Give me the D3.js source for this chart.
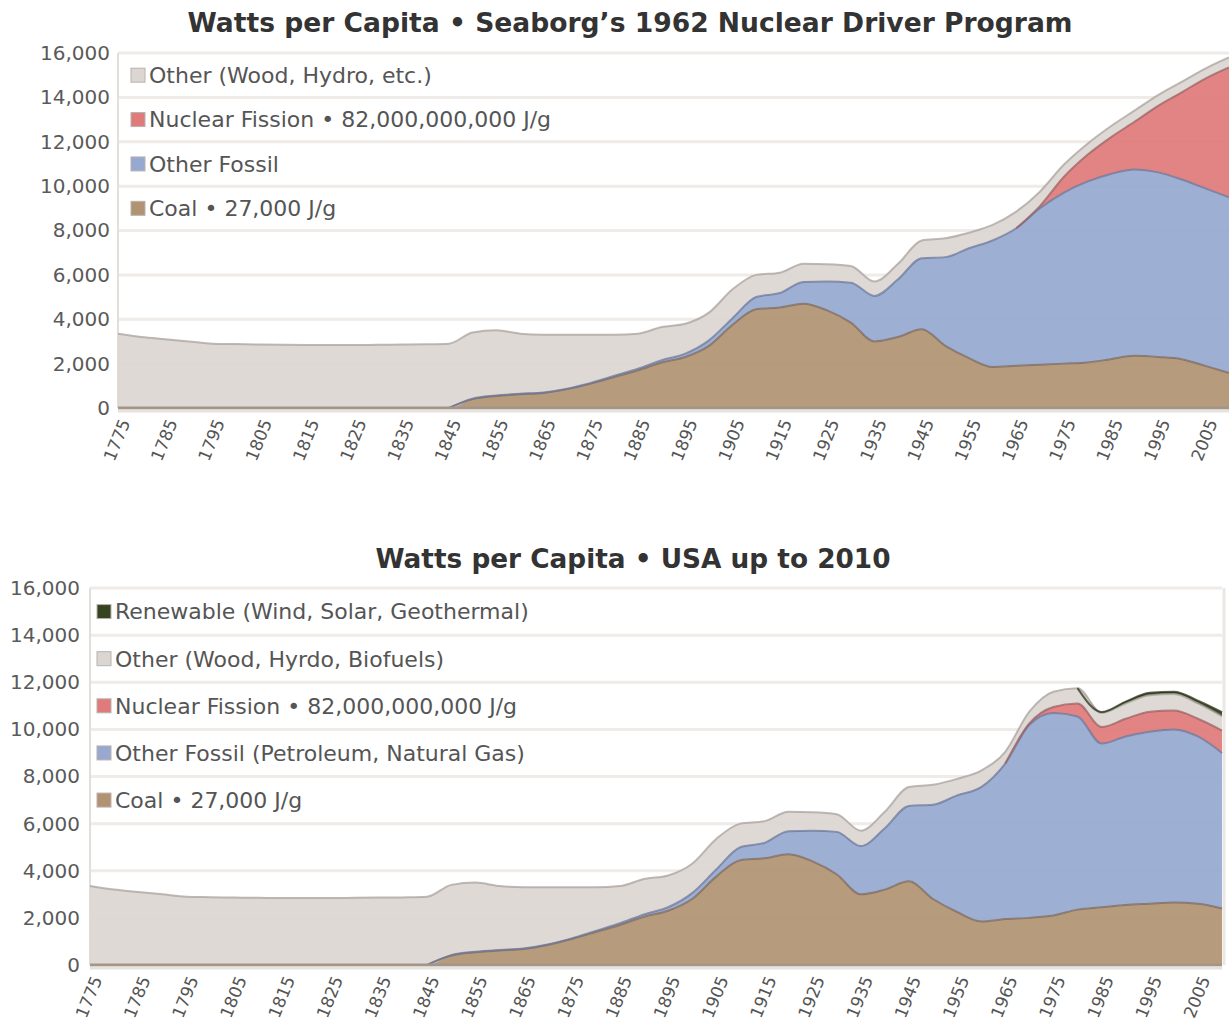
<!DOCTYPE html>
<html>
<head>
<meta charset="utf-8">
<script src="https://cdn.jsdelivr.net/npm/d3@7"></script>
<style>
  body { margin: 0; background: #fff; }
  text { font-family: "DejaVu Sans", Verdana, sans-serif; }
</style>
</head>
<body>
<svg id="chart" width="1229" height="1035"></svg>
<script>
// Categories (5-year steps) and labelled ticks
const years = [1775,1780,1785,1790,1795,1800,1805,1810,1815,1820,1825,1830,1835,1840,1845,
  1850,1855,1860,1865,1870,1875,1880,1885,1890,1895,1900,1905,1910,1915,1920,1925,1930,
  1935,1940,1945,1950,1955,1960,1965,1970,1975,1980,1985,1990,1995,2000,2005,2010];
const tickYears = [1775,1785,1795,1805,1815,1825,1835,1845,1855,1865,1875,1885,1895,
  1905,1915,1925,1935,1945,1955,1965,1975,1985,1995,2005];
const yTicks = [0,2000,4000,6000,8000,10000,12000,14000,16000];

// Top chart: Seaborg's 1962 projection (watts per capita)
const coalA = [0,0,0,0,0,0,0,0,0,0,0,0,0,0,0,
  400,540,620,680,850,1100,1400,1700,2050,2300,2800,3750,4450,4530,4700,4400,3850,
  3000,3200,3550,2800,2250,1850,1900,1950,2000,2050,2200,2350,2300,2200,1900,1580];
const fossilA = [0,0,0,0,0,0,0,0,0,0,0,0,0,0,0,
  20,20,20,20,20,30,50,70,100,150,250,300,550,650,980,1300,1800,
  2050,2600,3200,4000,4950,5700,6200,7050,7700,8150,8350,8400,8320,8100,8000,7920];
const nuclearA = [0,0,0,0,0,0,0,0,0,0,0,0,0,0,0,
  0,0,0,0,0,0,0,0,0,0,0,0,0,0,0,0,0,
  0,0,0,0,0,0,0,100,700,1200,1650,2150,3000,3930,4950,5850];
const otherA = [3350,3200,3100,3000,2900,2880,2860,2850,2840,2840,2840,2850,2860,2870,2900,
  2980,2940,2710,2600,2430,2170,1850,1580,1500,1350,1250,1300,1000,920,820,780,750,
  650,700,800,850,700,700,750,650,550,500,500,500,480,470,450,450];

// Bottom chart: USA actual up to 2010
const coalB = [0,0,0,0,0,0,0,0,0,0,0,0,0,0,0,
  400,540,620,680,850,1100,1400,1700,2050,2300,2800,3750,4450,4530,4700,4400,3850,
  3000,3200,3550,2800,2250,1850,1950,2000,2100,2350,2450,2550,2600,2650,2600,2400];
const fossilB = [0,0,0,0,0,0,0,0,0,0,0,0,0,0,0,
  20,20,20,20,20,30,50,70,100,150,250,300,550,650,980,1300,1800,
  2050,2600,3200,4000,4950,5700,6600,8200,8600,8200,6950,7150,7300,7350,7100,6600];
const nuclearB = [0,0,0,0,0,0,0,0,0,0,0,0,0,0,0,
  0,0,0,0,0,0,0,0,0,0,0,0,0,0,0,0,0,
  0,0,0,0,0,0,0,50,250,550,700,750,850,800,750,950];
const otherB = [3350,3200,3100,3000,2900,2880,2860,2850,2840,2840,2840,2850,2860,2870,2900,
  2980,2940,2710,2600,2430,2170,1850,1580,1500,1350,1250,1300,1000,920,820,780,750,
  650,700,800,850,700,700,500,500,650,650,600,650,700,700,650,600];
const renewB = [0,0,0,0,0,0,0,0,0,0,0,0,0,0,0,
  0,0,0,0,0,0,0,0,0,0,0,0,0,0,0,0,0,
  0,0,0,0,0,0,0,0,0,0,40,80,100,100,120,180];

const colors = {
  coal:    { fill: "#b19373", line: "#7e6a5c" },
  fossil:  { fill: "#97a9d1", line: "#6c7799" },
  nuclear: { fill: "#e07b7b", line: "#9c5f62" },
  other:   { fill: "#dcd6d2", line: "#a9a29e" },
  renew:   { fill: "#36431f", line: "#2a3318" }
};

const svg = d3.select("#chart");

function drawChart(cfg) {
  const x = d3.scaleLinear().domain([1775, 2010]).range([cfg.left, cfg.right]);
  const y = d3.scaleLinear().domain([0, 16000]).range([cfg.bottom, cfg.top]);
  const g = svg.append("g");

  // title
  g.append("text")
    .attr("x", cfg.titleX).attr("y", cfg.titleY)
    .attr("text-anchor", "middle")
    .attr("font-size", 27).attr("font-weight", "bold")
    .attr("textLength", cfg.titleW).attr("lengthAdjust", "spacingAndGlyphs")
    .attr("fill", "#333")
    .text(cfg.title);

  // gridlines
  g.selectAll(".grid").data(yTicks.filter(d => d > 0)).join("line")
    .attr("x1", cfg.left).attr("x2", cfg.right)
    .attr("y1", d => y(d)).attr("y2", d => y(d))
    .attr("stroke", "#eeebe8").attr("stroke-width", 3);
  g.append("line")
    .attr("x1", cfg.left).attr("x2", cfg.left)
    .attr("y1", cfg.top).attr("y2", cfg.bottom)
    .attr("stroke", "#e2deda").attr("stroke-width", 2);
  if (cfg.rightBorder) {
    g.append("line")
      .attr("x1", cfg.right + 2).attr("x2", cfg.right + 2)
      .attr("y1", cfg.top).attr("y2", cfg.bottom)
      .attr("stroke", "#ebe7e4").attr("stroke-width", 3);
  }

  // stacked areas
  const keys = cfg.series.map(s => s.key);
  const rows = years.map((yr, i) => {
    const r = { year: yr };
    cfg.series.forEach(s => { r[s.key] = s.values[i]; });
    return r;
  });
  const stack = d3.stack().keys(keys)(rows);
  const area = d3.area().curve(d3.curveMonotoneX)
    .x(d => x(d.data.year)).y0(d => y(d[0])).y1(d => y(d[1]));

  g.selectAll(".area").data(stack).join("path")
    .attr("d", area)
    .attr("fill", d => colors[d.key].fill)
    .attr("fill-opacity", 0.93);

  // outline on top of each layer, only where the layer has thickness
  stack.forEach(layer => {
    const k = layer.key;
    const has = i => i >= 0 && i < rows.length && rows[i][k] > 0;
    const edge = d3.line().curve(d3.curveMonotoneX)
      .defined((d, i) => has(i) || has(i - 1) || has(i + 1))
      .x(d => x(d.data.year)).y(d => y(d[1]));
    g.append("path")
      .datum(layer)
      .attr("d", edge)
      .attr("fill", "none")
      .attr("stroke", colors[k].line)
      .attr("stroke-width", 2)
      .attr("stroke-opacity", 0.75);
  });

  // baseline
  g.append("line")
    .attr("x1", cfg.left).attr("x2", cfg.right)
    .attr("y1", y(0)).attr("y2", y(0))
    .attr("stroke", "#a39588").attr("stroke-width", 3);
  g.append("line")
    .attr("x1", cfg.left).attr("x2", cfg.right)
    .attr("y1", y(0) + 3).attr("y2", y(0) + 3)
    .attr("stroke", "#e6e2de").attr("stroke-width", 3);

  // y axis labels
  const yAxis = g.append("g")
    .attr("transform", `translate(${cfg.left},0)`)
    .call(d3.axisLeft(y).tickValues(yTicks).tickFormat(d3.format(",")).tickSize(0).tickPadding(cfg.yPad));
  yAxis.select(".domain").remove();
  yAxis.selectAll("text")
    .attr("font-family", "\"DejaVu Sans\", Verdana, sans-serif")
    .attr("font-size", 20).attr("fill", "#5a5a5a");

  // x axis labels (rotated)
  g.selectAll(".xl").data(tickYears).join("text")
    .attr("transform", d => `translate(${x(d) + 7},${cfg.bottom + 12}) rotate(-68)`)
    .attr("text-anchor", "end")
    .attr("dy", "0.35em")
    .attr("font-size", 17).attr("fill", "#555")
    .text(d => d);

  // legend (inside plot, at odd thousands)
  const lg = g.selectAll(".lg").data(cfg.legend).join("g")
    .attr("transform", d => `translate(${cfg.legendX},${y(d.at)})`);
  lg.append("rect")
    .attr("x", 0).attr("y", -7).attr("width", 14).attr("height", 14)
    .attr("fill", d => colors[d.key].fill)
    .attr("stroke", "#b8b2ae").attr("stroke-width", 1);
  lg.append("text")
    .attr("x", 18).attr("dy", "0.36em")
    .attr("font-size", 22).attr("fill", "#555")
    .text(d => d.label);
}

drawChart({
  title: "Watts per Capita \u2022 Seaborg\u2019s 1962 Nuclear Driver Program",
  titleX: 630, titleY: 32, titleW: 885,
  left: 118, right: 1229, top: 53, bottom: 408, yPad: 8,
  legendX: 131,
  series: [
    { key: "coal", values: coalA },
    { key: "fossil", values: fossilA },
    { key: "nuclear", values: nuclearA },
    { key: "other", values: otherA }
  ],
  legend: [
    { key: "other", at: 15000, label: "Other (Wood, Hydro, etc.)" },
    { key: "nuclear", at: 13000, label: "Nuclear Fission \u2022 82,000,000,000 J/g" },
    { key: "fossil", at: 11000, label: "Other Fossil" },
    { key: "coal", at: 9000, label: "Coal \u2022 27,000 J/g" }
  ]
});

drawChart({
  title: "Watts per Capita \u2022 USA up to 2010",
  titleX: 633, titleY: 568, titleW: 515,
  left: 90, right: 1222, top: 588, bottom: 965, yPad: 10,
  legendX: 97, rightBorder: true,
  series: [
    { key: "coal", values: coalB },
    { key: "fossil", values: fossilB },
    { key: "nuclear", values: nuclearB },
    { key: "other", values: otherB },
    { key: "renew", values: renewB }
  ],
  legend: [
    { key: "renew", at: 15000, label: "Renewable (Wind, Solar, Geothermal)" },
    { key: "other", at: 13000, label: "Other (Wood, Hyrdo, Biofuels)" },
    { key: "nuclear", at: 11000, label: "Nuclear Fission \u2022 82,000,000,000 J/g" },
    { key: "fossil", at: 9000, label: "Other Fossil (Petroleum, Natural Gas)" },
    { key: "coal", at: 7000, label: "Coal \u2022 27,000 J/g" }
  ]
});
</script>
</body>
</html>
